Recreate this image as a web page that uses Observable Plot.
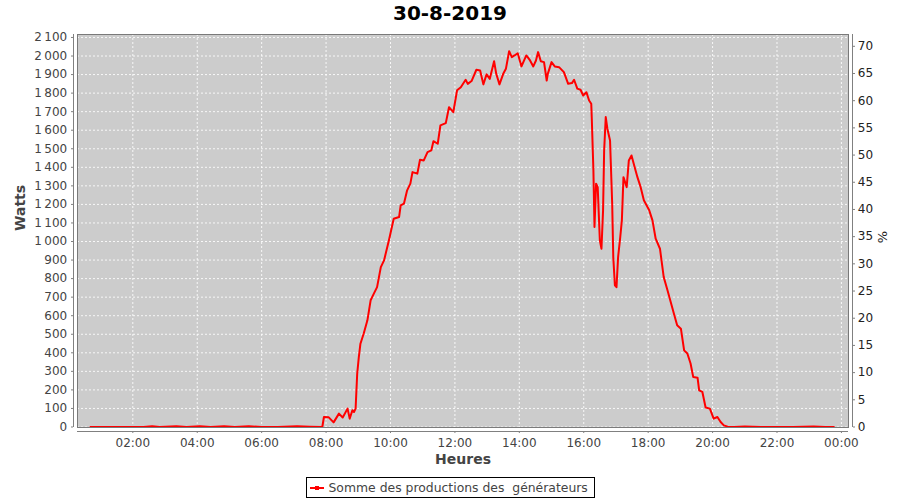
<!DOCTYPE html>
<html>
<head>
<meta charset="utf-8">
<script src="https://cdn.jsdelivr.net/npm/d3@7"></script>
<script src="https://cdn.jsdelivr.net/npm/@observablehq/plot@0.6"></script>
<style>
  body { margin: 0; background: #fff; font-family: "DejaVu Sans", sans-serif; }
  #title { height: 26px; line-height: 26px; text-align: center; font-size: 20px; font-weight: bold; color: #000; }
  #legend { margin: 7px auto 0; width: 287px; height: 19px; border: 1px solid #000; display: flex; align-items: center; font-size: 12.4px; color: #444; white-space: pre; }
  #legend .sw { position: relative; width: 14px; height: 2px; background: #ff0000; margin: 0 5px 0 3px; }
  #legend .sw::after { content: ""; position: absolute; left: 5px; top: -1px; width: 4px; height: 4px; background: #ff0000; }
</style>
</head>
<body>
<div id="title">30-8-2019</div>
<div id="chart"></div>
<div id="legend"><div class="sw"></div><span>Somme des productions des  générateurs</span></div>
<script>
// Time of day (HH:MM) and power in watts
const times = [
  "00:41","01:30","02:20","02:36","02:50","03:21","03:40","04:05","04:25","04:50",
  "05:10","05:36","06:00","06:30","07:06","07:30","07:53","07:56","08:05","08:14",
  "08:24","08:31","08:40","08:44","08:49","08:52","08:55","08:58","09:01","09:04",
  "09:10","09:17","09:23","09:29","09:35","09:42","09:48","09:57","10:06","10:16",
  "10:19","10:25","10:31","10:37","10:41","10:50","10:55","11:02","11:09","11:16",
  "11:20","11:28","11:33","11:43","11:49","11:57","12:04","12:11","12:20","12:24",
  "12:31","12:40","12:47","12:53","12:59","13:05","13:13","13:17","13:23","13:30",
  "13:35","13:41","13:46","13:51","13:57","14:04","14:13","14:20","14:26","14:31",
  "14:35","14:40","14:46","14:51","14:53","15:00","15:06","15:14","15:23","15:31",
  "15:38","15:42","15:48","15:54","15:59","16:05","16:10","16:14","16:15","16:18",
  "16:20","16:23","16:26","16:30","16:33","16:36","16:38","16:41","16:44","16:49",
  "16:53","16:55","16:58","17:01","17:04","17:08","17:11","17:14","17:17","17:20",
  "17:24","17:29","17:34","17:40","17:46","17:52","18:02","18:08","18:14","18:22",
  "18:29","18:36","18:42","18:48","18:54","19:01","19:07","19:13","19:19","19:24",
  "19:32","19:35","19:41","19:47","19:55","20:02","20:09","20:15","20:21","20:28",
  "20:40","21:00","21:30","22:00","22:30","23:08","23:30","23:46"
];
const watts = [
  0, 0, 0, 4, 0, 4, 0, 4, 0, 4,
  0, 4, 0, 0, 4, 2, 0, 54, 52, 25,
  72, 51, 99, 45, 90, 81, 99, 288, 377, 449,
  503, 575, 683, 719, 754, 862, 898, 1006, 1123, 1132,
  1195, 1204, 1276, 1312, 1374, 1366, 1441, 1437, 1482, 1491,
  1541, 1527, 1626, 1638, 1724, 1697, 1815, 1832, 1872, 1850,
  1865, 1926, 1922, 1847, 1901, 1877, 1972, 1904, 1847, 1904,
  1931, 2026, 1994, 2003, 2015, 1944, 2003, 1976, 1944, 1976,
  2021, 1972, 1967, 1868, 1904, 1967, 1944, 1940, 1913, 1850,
  1854, 1872, 1824, 1818, 1787, 1805, 1760, 1743, 1662, 1383,
  1078, 1312, 1293, 1006, 961, 1168, 1491, 1671, 1608, 1545,
  1204, 916, 764, 754, 916, 1024, 1114, 1347, 1320, 1293,
  1437, 1464, 1410, 1347, 1293, 1222, 1168, 1114, 1015, 961,
  808, 737, 674, 611, 548, 530, 413, 396, 342, 269,
  266, 198, 189, 105, 99, 45, 54, 27, 9, 2,
  0, 3, 0, 0, 0, 3, 0, 0
];
// Axis ticks
const hourTicks = [2, 4, 6, 8, 10, 12, 14, 16, 18, 20, 22, 24];
const wattTicks = [0, 100, 200, 300, 400, 500, 600, 700, 800, 900, 1000, 1100, 1200, 1300, 1400, 1500, 1600, 1700, 1800, 1900, 2000, 2100];
const percentTicks = [0, 5, 10, 15, 20, 25, 30, 35, 40, 45, 50, 55, 60, 65, 70];
const wattsPerPercent = 29.32;   // secondary axis ratio
const xDomain = [0.2825, 24.22]; // hours
const yDomain = [-2.7, 2116];    // watts

const data = times.map((t, i) => ({ h: +t.slice(0, 2) + +t.slice(3) / 60, w: watts[i] }));
const fr = d3.formatLocale({ decimal: ",", thousands: "\u202f", grouping: [3], currency: ["", "€"] });
const fmtW = fr.format(",d");
const fmtH = (h) => String(h % 24).padStart(2, "0") + ":00";

const chart = Plot.plot({
  width: 900, height: 444,
  marginLeft: 77, marginRight: 52, marginTop: 8, marginBottom: 43,
  style: { fontFamily: "DejaVu Sans", fontSize: "12px", color: "#444", background: "#fff", overflow: "visible" },
  x: { domain: xDomain },
  y: { domain: yDomain },
  marks: [
    Plot.frame({ fill: "#cccccc" }),
    Plot.gridX(hourTicks, { stroke: "#fff", strokeOpacity: 0.85, strokeDasharray: "2,2" }),
    Plot.gridY(wattTicks, { stroke: "#fff", strokeOpacity: 0.85, strokeDasharray: "2,2" }),
    Plot.line(data, { x: "h", y: "w", stroke: "#ff0000", strokeWidth: 2 }),
    Plot.frame({ stroke: "#7a7a7a" }),
    Plot.ruleX([xDomain[0]], { dx: -4, stroke: "#808080" }),
    Plot.ruleX([xDomain[1]], { dx: 4, stroke: "#808080" }),
    Plot.ruleY([yDomain[0]], { dy: 4, stroke: "#808080" }),
    Plot.axisX(hourTicks, { anchor: "bottom", dy: 4, tickSize: 2, tickPadding: 4.5, tickFormat: fmtH, label: null, stroke: "#808080", fill: "#444" }),
    Plot.axisY(wattTicks, { anchor: "left", dx: -4, tickSize: 2, tickPadding: 4.3, tickFormat: fmtW, label: null, stroke: "#808080", fill: "#444" }),
    Plot.axisY(percentTicks.map(p => p * wattsPerPercent), { anchor: "right", dx: 4, tickSize: 2, tickPadding: 3.3, tickFormat: d => String(Math.round(d / wattsPerPercent)), label: null, stroke: "#808080", fill: "#222" }),
    Plot.text(["Watts"], { frameAnchor: "left", dx: -57, rotate: -90, fontWeight: "bold", fontSize: 14, fill: "#444" }),
    Plot.text(["Heures"], { frameAnchor: "bottom", dy: 36, fontWeight: "bold", fontSize: 14, fill: "#444" }),
    Plot.text(["%"], { frameAnchor: "right", dx: 34, rotate: -90, fontSize: 13, fill: "#222" })
  ]
});
document.getElementById("chart").appendChild(chart);
</script>
</body>
</html>
